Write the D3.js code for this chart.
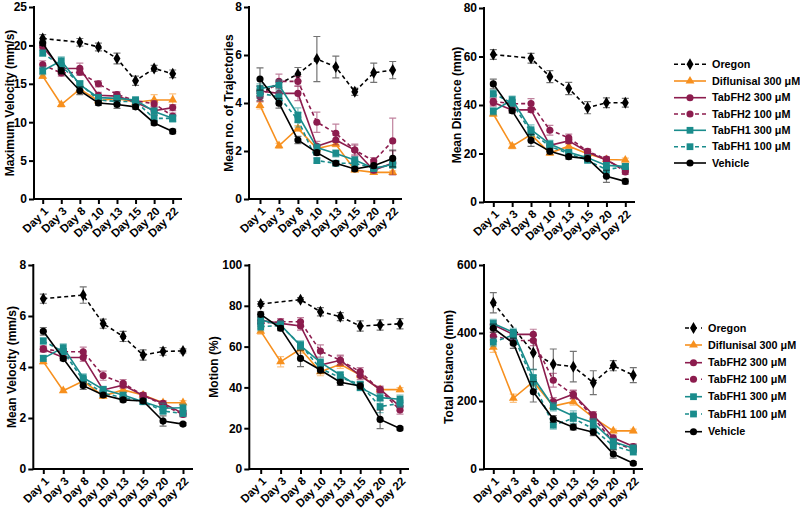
<!DOCTYPE html>
<html><head><meta charset="utf-8">
<script src="https://cdn.jsdelivr.net/npm/d3@7"></script>
<style>body{margin:0;background:#fff}svg{display:block;font-family:"Liberation Sans",Arial,sans-serif;font-weight:bold}</style>
</head><body><svg id="c" width="800" height="520"></svg>
<script>
const days = ["Day 1","Day 3","Day 8","Day 10","Day 13","Day 15","Day 20","Day 22"];
const seriesNames = ["Oregon","Diflunisal 300 μM","TabFH2 300 μM","TabFH2 100 μM","TabFH1 300 μM","TabFH1 100 μM","Vehicle"];
const seriesColors = ["#000000","#f7901e","#8c1c4e","#8c1c4e","#1a8c8c","#1a8c8c","#000000"];
const seriesDashed = [true,false,false,true,false,true,false];
const seriesShapes = ["diamond","triangle","circle","circle","square","square","circle"];

// values, rows in seriesNames order
const maxVelocity = [
  [20.9,null,20.4,19.8,18.3,15.4,17.0,16.3],
  [16.0,12.3,14.3,12.8,13.1,12.6,12.9,12.9],
  [19.8,17.0,17.0,13.5,13.4,12.6,11.5,11.9],
  [17.5,16.4,16.5,15.0,13.6,12.8,12.4,10.8],
  [16.7,18.0,14.9,13.2,13.1,12.9,11.4,10.5],
  [19.0,17.3,15.0,12.9,12.7,12.7,10.5,10.5],
  [20.3,16.7,14.1,12.5,12.3,12.0,9.9,8.8]
];
const maxVelocityErr = [
  [0.5,null,0.5,0.5,0.7,0.6,0.4,0.5],
  [0.3,0.3,0.5,0.3,0.3,0.3,0.7,0.8],
  [0.4,0.5,0.7,0.4,0.4,0.3,0.5,0.4],
  [0.5,0.4,0.4,0.4,0.4,0.3,0.4,0.4],
  [0.5,0.5,0.5,0.4,0.4,0.4,0.5,0.5],
  [0.4,0.4,0.4,0.4,0.4,0.4,0.4,0.4],
  [0.3,0.4,0.5,0.3,0.5,0.3,0.3,0.3]
];
const trajectories = [
  [4.4,null,5.2,5.83,5.5,4.47,5.26,5.37],
  [3.9,2.22,2.94,2.1,2.28,1.21,1.11,1.11],
  [4.5,4.4,4.4,2.2,2.46,2.04,1.2,1.5],
  [4.26,4.9,4.9,3.2,2.74,2.04,1.58,2.42],
  [4.6,4.75,3.5,2.14,1.9,1.62,1.28,1.44],
  [4.4,4.26,3.3,1.6,1.49,1.49,1.28,1.42],
  [5.0,3.99,2.46,1.93,1.49,1.25,1.39,1.69]
];
const trajectoriesErr = [
  [0.3,null,0.28,0.94,0.45,0.15,0.4,0.36],
  [0.15,0.1,0.12,0.1,0.1,0.08,0.06,0.06],
  [0.2,0.25,0.3,0.2,0.2,0.2,0.1,0.5],
  [0.2,0.3,0.2,0.42,0.38,0.25,0.15,0.95],
  [0.2,0.2,0.3,0.15,0.15,0.15,0.1,0.15],
  [0.2,0.2,0.3,0.1,0.1,0.15,0.1,0.1],
  [0.46,0.2,0.15,0.1,0.08,0.08,0.1,0.35]
];
const meanDistance = [
  [60.8,null,59.3,51.7,46.8,38.9,40.9,40.9],
  [36.3,23.0,27.8,20.2,23.0,19.9,17.5,17.3],
  [41.0,38.0,38.0,23.4,25.2,20.6,17.2,13.3],
  [41.5,40.5,40.6,29.6,26.5,20.9,17.7,12.4],
  [37.4,42.2,29.8,23.9,20.5,18.2,15.1,14.7],
  [44.7,40.8,28.7,23.0,19.9,17.2,13.3,14.7],
  [48.7,37.6,25.4,20.9,18.7,17.9,10.6,8.5]
];
const meanDistanceErr = [
  [2,null,2,2.5,2.5,2.5,2,1.8],
  [1,1,1,1,1,1,0.8,0.8],
  [1.5,1,1,1,1,1,1,1],
  [1.5,1.5,2,2,1.5,1,1,1],
  [1.5,1.5,2,1.5,1,1,1,1],
  [1.5,1.5,1.5,1,1,1,1.5,1],
  [2,1,2.5,1.2,1,1,2.5,1]
];
const meanVelocity = [
  [6.68,null,6.82,5.70,5.20,4.47,4.61,4.63],
  [4.21,3.07,3.45,2.86,3.10,2.90,2.60,2.60],
  [4.7,4.37,4.37,3.10,3.29,2.88,2.58,2.18],
  [4.71,4.60,4.60,3.66,3.36,2.90,2.51,2.14],
  [4.34,4.76,3.58,3.12,2.90,2.64,2.38,2.40],
  [5.02,4.60,3.49,2.97,2.80,2.64,2.27,2.18],
  [5.40,4.33,3.27,2.90,2.71,2.67,1.88,1.76]
];
const meanVelocityErr = [
  [0.18,null,0.32,0.18,0.2,0.2,0.15,0.08],
  [0.08,0.06,0.08,0.08,0.08,0.08,0.08,0.08],
  [0.1,0.1,0.15,0.1,0.12,0.08,0.08,0.1],
  [0.12,0.12,0.18,0.18,0.15,0.1,0.08,0.1],
  [0.12,0.15,0.15,0.12,0.1,0.1,0.2,0.15],
  [0.12,0.12,0.12,0.1,0.1,0.1,0.12,0.12],
  [0.15,0.08,0.15,0.08,0.08,0.08,0.2,0.06]
];
const motion = [
  [80.9,null,83.0,77.1,74.7,70.1,70.6,71.2],
  [67.6,52.6,58.8,47.7,51.3,46.1,38.9,38.9],
  [72.9,71.4,70.1,51.0,53.3,45.8,39.1,30.6],
  [71.4,72.2,72.2,57.8,53.3,47.7,38.7,28.9],
  [73.0,70.6,60.5,52.3,46.1,39.9,35.0,34.2],
  [69.8,70.3,60.8,49.3,44.8,41.5,30.6,32.2],
  [75.8,69.0,54.2,48.5,42.5,40.7,24.3,19.9]
];
const motionErr = [
  [1.2,null,1,2,2,2.5,2.5,2.5],
  [1.5,2.5,2,2,2,1.5,1,1],
  [1.5,1.5,2,2,2,2,1.5,2],
  [1.5,1.5,2,3,2.5,2,1.5,2],
  [2,2,2,2,1.5,1.5,2,2],
  [2,2,2,1.5,1.5,1.5,3,2],
  [1.2,1.2,4,1.5,1.5,1.5,4.5,0.8]
];
const totalDistance = [
  [489,null,342,308,301,254,304,276],
  [358,208,257,185,198,151,112,112],
  [424,396,396,198,220,159,92,66],
  [391,378,378,261,218,151,80,56],
  [428,402,269,183,156,136,80,61],
  [373,394,255,129,149,118,68,51],
  [414,370,227,147,123,108,44,17]
];
const totalDistanceErr = [
  [30,null,50,45,45,35,15,22],
  [15,12,12,10,10,8,5,5],
  [12,12,15,12,12,10,8,8],
  [12,12,15,20,12,10,8,8],
  [12,12,25,12,15,12,10,10],
  [12,12,20,12,15,10,10,10],
  [12,15,30,10,8,10,12,5]
];
const yTitles = ["Maximum Velocity (mm/s)","Mean no. of Trajectories","Mean Distance (mm)","Mean Velocity (mm/s)","Motion (%)","Total Distance (mm)"];
const yMaxes = [25,8,80,8,100,600];
const yTickValues = [[0,5,10,15,20,25],[0,2,4,6,8],[0,20,40,60,80],[0,2,4,6,8],[0,20,40,60,80,100],[0,200,400,600]];

const panelData = [maxVelocity,trajectories,meanDistance,meanVelocity,motion,totalDistance];
const panelErr = [maxVelocityErr,trajectoriesErr,meanDistanceErr,meanVelocityErr,motionErr,totalDistanceErr];
// layout: axisX, top, bottom, firstDayX, lastDayX, axisEnd, titleOffset
const layout = [
  [34,7,199,42.7,172.7,182,20],
  [249,7,199,260,392.7,402,16],
  [484,8,202,493.3,625.3,635,23],
  [33.3,265,469,43.3,183,193,17],
  [249.3,265,469,260.7,400,409,31],
  [484,265,469,493.3,633.3,643,31]
];
const svg = d3.select("#c");
const symType = {diamond:d3.symbolDiamond,triangle:d3.symbolTriangle,circle:d3.symbolCircle,square:d3.symbolSquare};
const symSize = {diamond:42,triangle:34,circle:40,square:46};

function drawMarker(g,shape,x,y,color){
  g.append("path").attr("d",d3.symbol().type(symType[shape]).size(symSize[shape])())
   .attr("transform",`translate(${x},${y})`).attr("fill",color);
}

panelData.forEach((data,pi)=>{
  const [ax,top,bot,x0,x1,xend,toff]=layout[pi];
  const x=d3.scalePoint().domain(days).range([x0,x1]);
  const y=d3.scaleLinear().domain([0,yMaxes[pi]]).range([bot,top]);
  const g=svg.append("g");
  const ya=g.append("g").attr("transform",`translate(${ax},0)`)
    .call(d3.axisLeft(y).tickValues(yTickValues[pi]).tickSize(5).tickPadding(2).tickFormat(d3.format("d")));
  ya.select(".domain").attr("stroke-width",2).attr("d",`M0,${top-1}V${bot+1}`);
  ya.selectAll(".tick line").attr("stroke-width",2);
  ya.selectAll(".tick text").attr("font-size",12).attr("font-weight","bold").attr("fill","#000").attr("font-family","Liberation Sans, Arial, sans-serif");
  const xa=g.append("g").attr("transform",`translate(0,${bot})`)
    .call(d3.axisBottom(x).tickSize(5).tickPadding(2));
  xa.select(".domain").attr("stroke-width",2).attr("d",`M${ax},0H${xend}`);
  xa.selectAll(".tick line").attr("stroke-width",2);
  xa.selectAll(".tick text").attr("font-size",11.5).attr("font-weight","bold").attr("fill","#000")
    .attr("font-family","Liberation Sans, Arial, sans-serif")
    .attr("text-anchor","end").attr("dy","0.35em")
    .attr("transform","translate(3,10) rotate(-45)").attr("y",0).attr("x",0);
  g.append("text").attr("transform",`translate(${ax-toff},${(top+bot)/2}) rotate(-90)`)
   .attr("text-anchor","middle").attr("font-size",12).text(yTitles[pi]);
  data.forEach((vals,si)=>{
    const col=seriesColors[si];
    const pts=days.map((d,i)=>({d,v:vals[i],e:panelErr[pi][si][i]})).filter(p=>p.v!=null);
    const sg=g.append("g");
    pts.forEach(p=>{
      const xx=x(p.d), ya1=y(p.v+p.e), ya0=y(p.v-p.e);
      sg.append("path").attr("d",`M${xx},${ya0}V${ya1}M${xx-3.5},${ya0}H${xx+3.5}M${xx-3.5},${ya1}H${xx+3.5}`)
        .attr("stroke",col).attr("stroke-opacity",0.55).attr("stroke-width",1.2).attr("fill","none");
    });
    sg.append("path").datum(pts)
      .attr("d",d3.line().x(p=>x(p.d)).y(p=>y(p.v)))
      .attr("fill","none").attr("stroke",col).attr("stroke-width",1.6)
      .attr("stroke-dasharray",seriesDashed[si]?"4,3":null);
    pts.forEach(p=>drawMarker(sg,seriesShapes[si],x(p.d),y(p.v),col));
  });
});

function legend(lx0,lx1,tx,ys,fs,dash){
  const g=svg.append("g");
  seriesNames.forEach((n,i)=>{
    const yy=ys[i];
    g.append("line").attr("x1",lx0).attr("x2",lx1).attr("y1",yy).attr("y2",yy)
      .attr("stroke",seriesColors[i]).attr("stroke-width",1.6)
      .attr("stroke-dasharray",seriesDashed[i]?dash:null);
    drawMarker(g,seriesShapes[i],(lx0+lx1)/2,yy,seriesColors[i]);
    g.append("text").attr("x",tx).attr("y",yy).attr("dy","0.35em").attr("font-size",fs).text(n);
  });
}
legend(674,706,712,[64.3,81,97.7,114,130.3,146.7,163],10.8,"4,3");
legend(685,702,708,[328,345,362.7,379.3,396.7,414,431.7],10.8,"4,4");
</script></body></html>
